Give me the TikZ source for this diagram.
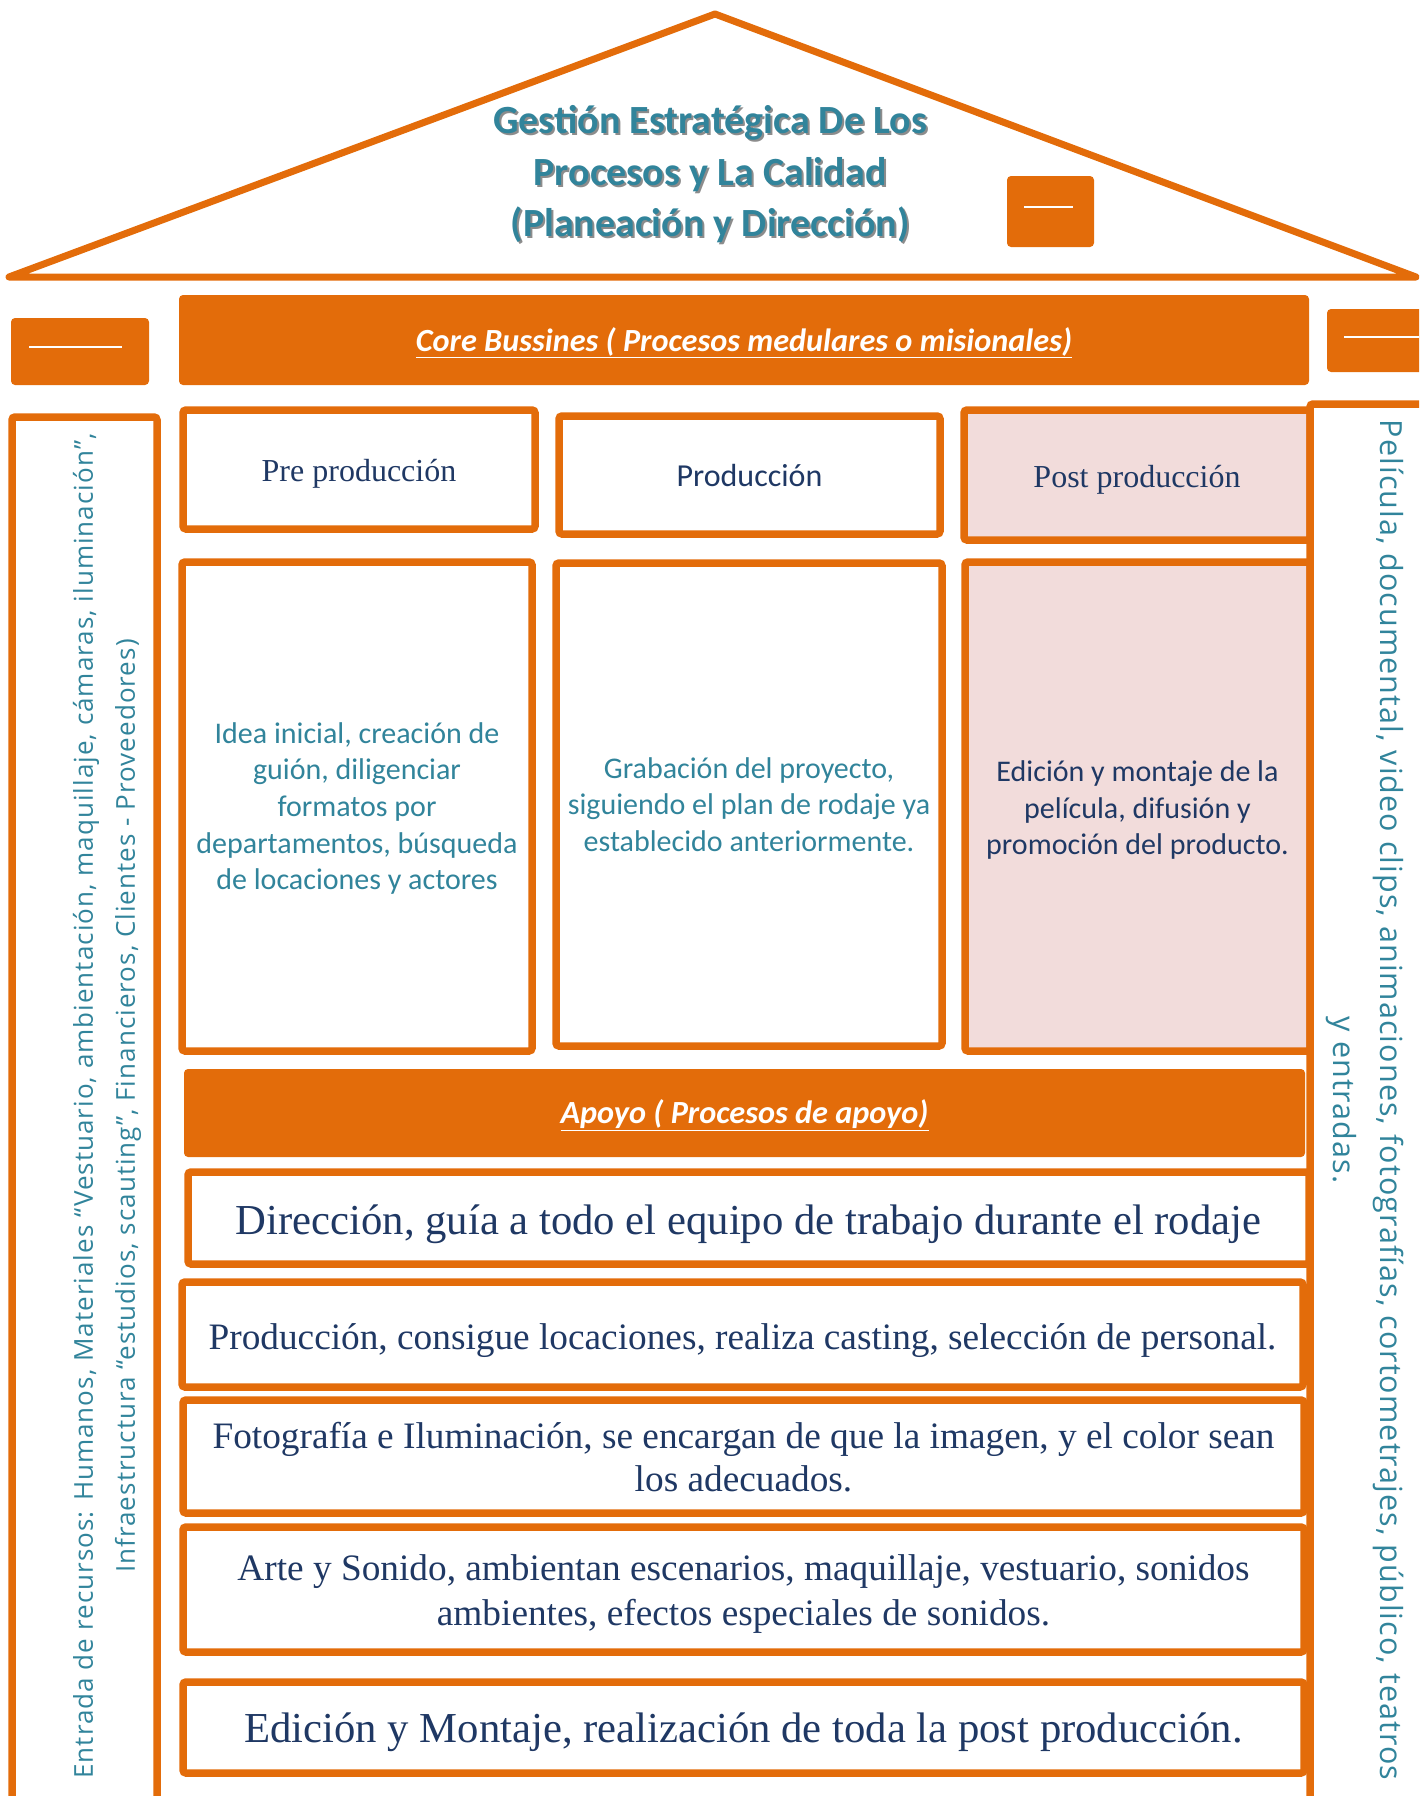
\documentclass[tikz,border=0pt]{standalone}
\usepackage{fontspec}
\setmainfont{Liberation Serif}
\newfontfamily\calib{Carlito}
\newfontfamily\osans{Open Sans}
\newfontfamily\osanssp{Open Sans}[LetterSpace=4]
\newfontfamily\osansrt{Open Sans}[LetterSpace=3.5]
\definecolor{orng}{RGB}{227,108,10}
\definecolor{tealtxt}{RGB}{49,132,155}
\definecolor{navytxt}{RGB}{31,56,100}
\definecolor{pinkfill}{RGB}{242,220,219}
\definecolor{shadowgray}{RGB}{140,140,140}
\tikzset{
  obox/.style={draw=orng, line width=7.5pt, rounded corners=3pt, inner sep=0pt, fill=white},
  pbox/.style={obox, fill=pinkfill},
  obar/.style={fill=orng, rounded corners=4pt, inner sep=0pt},
  wline/.style={draw=white, line width=2pt},
  hdserif/.style={text=navytxt, font=\fontsize{32}{38}\selectfont},
  cellt/.style={text=tealtxt, align=center, font=\calib\fontsize{30}{36.6}\selectfont},
  bott/.style={text=navytxt, align=center, inner sep=0pt},
  bartext/.style={text=white, font=\calib\bfseries\itshape\fontsize{32.3}{38}\selectfont},
  titlet/.style={align=center, font=\calib\bfseries\fontsize{40}{51.5}\selectfont},
}
\begin{document}
\begin{tikzpicture}[x=1pt,y=-1pt]
\useasboundingbox (0,0) rectangle (1419,1796);
\clip (0,0) rectangle (1419,1796);
% roof
\draw[orng, line width=7pt, line join=round, line cap=round] (9,277) -- (715,14) -- (1416,277) -- cycle;
\node[titlet, text=shadowgray] (titleshadow) at (712,176.5)
  {Gestión Estratégica De Los\\Procesos y La Calidad\\(Planeación y Dirección)};
\node[titlet, text=tealtxt] (title) at (710,174.5)
  {Gestión Estratégica De Los\\Procesos y La Calidad\\(Planeación y Dirección)};
\node[obar, minimum width=87, minimum height=71] (roofbox) at (1050.5,211.5) {};
\draw[wline] (1024,207) -- (1073,207);
% top bars
\node[obar, minimum width=138, minimum height=67] (lsmall) at (80,351.5) {};
\draw[wline] (29,347) -- (122,347);
\node[obar, minimum width=1130, minimum height=90] (core) at (744,340) {};
\node[bartext] (coreT) at ([yshift=-2.5pt]core.center) {\underline{Core Bussines ( Procesos medulares o misionales)}};
\node[obar, minimum width=120, minimum height=63] (rsmall) at (1387,340.5) {};
\draw[wline] (1344,337) -- (1419,337);
% left tall box
\node[obox, minimum width=145, minimum height=1400] (leftcol) at (84.5,1117) {};
\node[rotate=90, text=tealtxt, align=center, font=\osanssp\fontsize{26}{42}\selectfont] (lefttext) at (107,1106)
  {Entrada de recursos: Humanos, Materiales “Vestuario, ambientación, maquillaje, cámaras, iluminación”,\\
   Infraestructura “estudios, scauting”, Financieros, Clientes - Proveedores)};
% header row
\node[obox, minimum width=352, minimum height=119] (pre) at (359,469.5) {};
\node[hdserif] (preT) at ([yshift=-4.5pt]pre.center) {Pre producción};
\node[obox, minimum width=381, minimum height=118] (prod) at (749.5,475) {};
\node[text=navytxt, font=\calib\fontsize{32}{38}\selectfont] (prodT) at ([yshift=-1pt]prod.center) {Producción};
\node[pbox, minimum width=346, minimum height=130] (post) at (1137,475) {};
\node[hdserif] (postT) at ([yshift=-4.5pt]post.center) {Post producción};
% content row
\node[obox, minimum width=350, minimum height=489] (preC) at (357,806.5) {};
\node[cellt] (preCT) at ([yshift=-2pt]preC.center)
  {Idea inicial, creación de\\guión, diligenciar\\formatos por\\departamentos, búsqueda\\de locaciones y actores};
\node[obox, minimum width=386, minimum height=483] (prodC) at (749,804.5) {};
\node[cellt] (prodCT) at (prodC.center)
  {Grabación del proyecto,\\siguiendo el plan de rodaje ya\\establecido anteriormente.};
\node[pbox, minimum width=345, minimum height=489] (postC) at (1137.5,806.5) {};
\node[cellt, text=navytxt] (postCT) at ([yshift=-3.5pt]postC.center)
  {Edición y montaje de la\\película, difusión y\\promoción del producto.};
% apoyo
\node[obar, minimum width=1121, minimum height=88] (apoyo) at (744.5,1113) {};
\node[bartext] (apoyoT) at ([yshift=-2.5pt]apoyo.center) {\underline{Apoyo ( Procesos de apoyo)}};
\node[obox, minimum width=1121, minimum height=92] (dir) at (748.5,1218) {};
\node[bott, font=\fontsize{42.7}{48}\selectfont] (dirT) at ([yshift=-6pt]dir.center)
  {Dirección, guía a todo el equipo de trabajo durante el rodaje};
\node[obox, minimum width=1121, minimum height=105] (prod2) at (742.5,1334.5) {};
\node[bott, font=\fontsize{37.3}{43}\selectfont] (prod2T) at ([yshift=-6pt]prod2.center)
  {Producción, consigue locaciones, realiza casting, selección de personal.};
\node[obox, minimum width=1121, minimum height=113] (foto) at (743.5,1456.5) {};
\node[bott, font=\fontsize{37.3}{43}\selectfont] (fotoT) at ([yshift=-1pt]foto.center)
  {Fotografía e Iluminación, se encargan de que la imagen, y el color sean\\los adecuados.};
\node[obox, minimum width=1121, minimum height=125] (arte) at (743.5,1589.5) {};
\node[bott, font=\fontsize{37.3}{45}\selectfont] (arteT) at ([yshift=-4.5pt]arte.center)
  {Arte y Sonido, ambientan escenarios, maquillaje, vestuario, sonidos\\ambientes, efectos especiales de sonidos.};
\node[obox, minimum width=1121, minimum height=91] (edic) at (743.5,1727.5) {};
\node[bott, font=\fontsize{42.7}{48}\selectfont] (edicT) at ([yshift=-4.5pt]edic.center)
  {Edición y Montaje, realización de toda la post producción.};
% right tall box
\draw[orng, line width=7.5pt, rounded corners=3pt] (1440,404) -- (1310,404) -- (1310,1810);
\node[rotate=-90, text=tealtxt, align=center, font=\osansrt\fontsize{30.5}{47}\selectfont] (righttext) at (1365,1100)
  {Película, documental, video clips, animaciones, fotografías, cortometrajes, público, teatros\\y entradas.};
\end{tikzpicture}
\end{document}
